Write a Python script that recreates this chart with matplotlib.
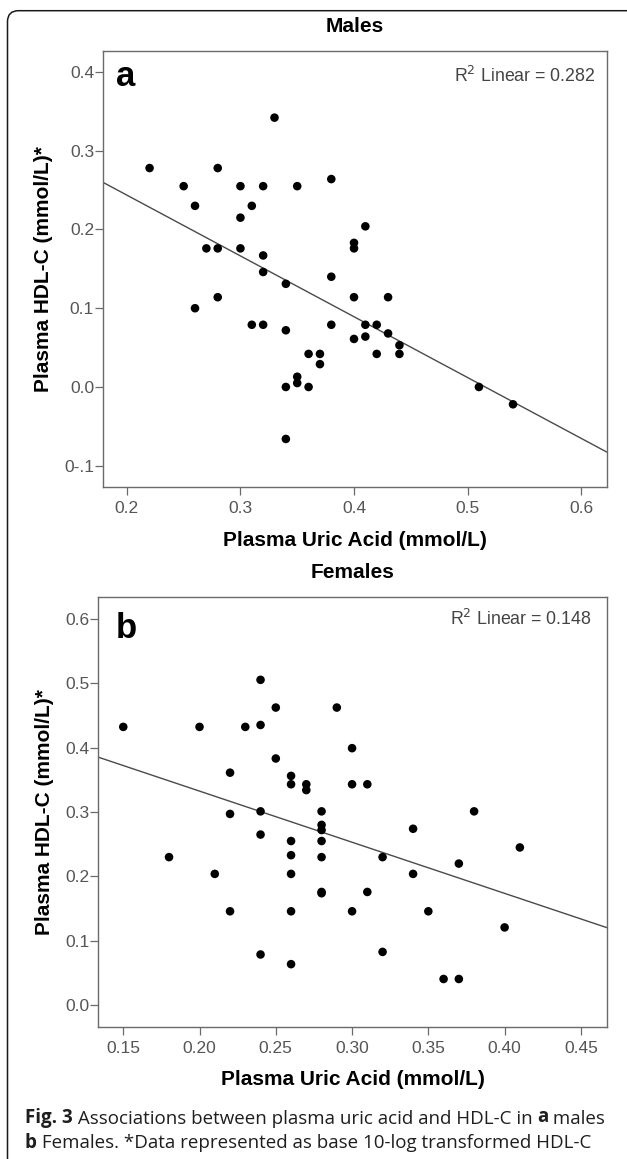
import numpy as np
import matplotlib
matplotlib.use("Agg")
import matplotlib.pyplot as plt
from matplotlib.patches import FancyBboxPatch
from matplotlib.transforms import IdentityTransform
from matplotlib.text import Annotation
from matplotlib import font_manager

# ---------------- data ----------------
male_uric = [0.33, 0.22, 0.28, 0.25, 0.30, 0.32, 0.35, 0.38, 0.26, 0.31,
             0.30, 0.41, 0.40, 0.40, 0.27, 0.28, 0.30, 0.32, 0.32, 0.34,
             0.38, 0.28, 0.40, 0.43, 0.26, 0.31, 0.32, 0.34, 0.38, 0.41,
             0.42, 0.43, 0.40, 0.41, 0.44, 0.44, 0.42, 0.36, 0.37, 0.37,
             0.35, 0.35, 0.34, 0.36, 0.34, 0.51, 0.54]
male_hdl = [0.342, 0.278, 0.278, 0.255, 0.255, 0.255, 0.255, 0.264, 0.230, 0.230,
            0.215, 0.204, 0.183, 0.176, 0.176, 0.176, 0.176, 0.167, 0.146, 0.131,
            0.140, 0.114, 0.114, 0.114, 0.100, 0.079, 0.079, 0.072, 0.079, 0.079,
            0.079, 0.068, 0.061, 0.064, 0.053, 0.042, 0.042, 0.042, 0.042, 0.029,
            0.013, 0.005, 0.000, 0.000, -0.066, 0.000, -0.022]

female_uric = [0.15, 0.20, 0.23, 0.24, 0.24, 0.25, 0.29, 0.30, 0.25, 0.22,
               0.26, 0.26, 0.27, 0.27, 0.30, 0.31, 0.22, 0.24, 0.28, 0.38,
               0.24, 0.28, 0.28, 0.28, 0.26, 0.34, 0.41, 0.18, 0.26, 0.28,
               0.32, 0.37, 0.21, 0.26, 0.34, 0.28, 0.28, 0.31, 0.22, 0.26,
               0.30, 0.35, 0.40, 0.24, 0.32, 0.26, 0.36, 0.37]
female_hdl = [0.432, 0.432, 0.432, 0.505, 0.435, 0.462, 0.462, 0.399, 0.383, 0.361,
              0.356, 0.343, 0.343, 0.334, 0.343, 0.343, 0.297, 0.301, 0.301, 0.301,
              0.265, 0.280, 0.272, 0.255, 0.255, 0.274, 0.245, 0.230, 0.233, 0.230,
              0.230, 0.220, 0.204, 0.204, 0.204, 0.176, 0.174, 0.176, 0.146, 0.146,
              0.146, 0.146, 0.121, 0.079, 0.083, 0.064, 0.041, 0.041]

# fitted lines (intercept, slope)
male_fit = (0.398, -0.772)
female_fit = (0.491, -0.793)

male_r2 = "0.282"
female_r2 = "0.148"

male_xticks = [0.2, 0.3, 0.4, 0.5, 0.6]
male_xticklabels = ["0.2", "0.3", "0.4", "0.5", "0.6"]
male_yticks = [-0.1, 0.0, 0.1, 0.2, 0.3, 0.4]
male_yticklabels = ["0-.1", "0.0", "0.1", "0.2", "0.3", "0.4"]

female_xticks = [0.15, 0.20, 0.25, 0.30, 0.35, 0.40, 0.45]
female_xticklabels = ["0.15", "0.20", "0.25", "0.30", "0.35", "0.40", "0.45"]
female_yticks = [0.0, 0.1, 0.2, 0.3, 0.4, 0.5, 0.6]
female_yticklabels = ["0.0", "0.1", "0.2", "0.3", "0.4", "0.5", "0.6"]

caption_line1 = [("Fig. 3", True),
                 (" Associations between plasma uric acid and HDL-C in ", False),
                 ("a", True), (" males", False)]
caption_line2 = [("b", True),
                 (" Females. *Data represented as base 10-log transformed HDL-C", False)]

# ---------------- figure ----------------
W, H = 627, 1159
fig = plt.figure(figsize=(W / 100, H / 100), dpi=100)
fig.patch.set_facecolor("white")

SANS = ["Liberation Sans", "DejaVu Sans"]
CAP = ["Open Sans", "DejaVu Sans"]
plt.rcParams["font.family"] = SANS

# condensed font for tick labels if available
try:
    font_manager.findfont(font_manager.FontProperties(family="Liberation Sans Narrow"),
                          fallback_to_default=False)
    TICKFAM, TICKSIZE = "Liberation Sans Narrow", 13.5
except Exception:
    TICKFAM, TICKSIZE = "Liberation Sans", 12.5

spine_c = "#6a6a6a"
tick_c = "#555555"

# outer rounded frame (pixel coords)
frame = FancyBboxPatch((7.5, -20), 640, H - 10.7 + 20,
                       boxstyle="round,pad=0,rounding_size=11",
                       transform=IdentityTransform(), fill=False,
                       edgecolor="#1a1a1a", linewidth=1.1)
fig.patches.append(frame)


def panel(rect, x, y, fit, r2, xlim, ylim, xt, xtl, yt, ytl, title, letter,
          letter_pos, r2_pos, title_y, xlab_y, ylab_x):
    ax = fig.add_axes(rect)
    ax.scatter(x, y, s=38, color="black", edgecolors="none", zorder=3)
    xs = np.array(xlim)
    ax.plot(xs, fit[0] + fit[1] * xs, color="#4a4a4a", lw=1.0, zorder=2)
    ax.set_xlim(xlim)
    ax.set_ylim(ylim)
    ax.set_xticks(xt)
    ax.set_xticklabels(xtl, family=TICKFAM)
    ax.set_yticks(yt)
    ax.set_yticklabels(ytl, family=TICKFAM)
    for s in ax.spines.values():
        s.set_color(spine_c)
        s.set_linewidth(1.0)
    ax.tick_params(axis="both", direction="out", length=6.0, width=0.9,
                   color=spine_c, labelcolor=tick_c, labelsize=TICKSIZE)
    ax.tick_params(axis="y", pad=0.3)
    ax.tick_params(axis="x", pad=4.0)
    ax.set_title(title, fontsize=15, fontweight="bold", y=title_y, va="center")
    ax.set_xlabel("Plasma Uric Acid (mmol/L)", fontsize=15, fontweight="bold",
                  va="center")
    ax.xaxis.set_label_coords(0.5, xlab_y)
    ax.set_ylabel("Plasma HDL-C (mmol/L)*", fontsize=15, fontweight="bold",
                  va="center")
    ax.yaxis.set_label_coords(ylab_x, 0.5)
    ax.text(letter_pos[0], letter_pos[1], letter, transform=ax.transAxes,
            fontsize=25, fontweight="bold", ha="left", va="baseline")
    ax.text(r2_pos[0], r2_pos[1], r"R$^{2}$ Linear = " + r2,
            transform=ax.transAxes, fontsize=12.8, color="#444444",
            ha="right", va="baseline")
    return ax


panel([102.8 / W, 1 - 487 / H, (606.8 - 102.8) / W, (487 - 50.7) / H],
      male_uric, male_hdl, male_fit, male_r2,
      (0.1788, 0.6226), (-0.127, 0.427),
      male_xticks, male_xticklabels, male_yticks, male_yticklabels,
      "Males", "a", (0.026, 0.919), (0.978, 0.929), 1.036, -0.1215, -0.117)

panel([98.4 / W, 1 - 1026.7 / H, (606.8 - 98.4) / W, (1026.7 - 597.3) / H],
      female_uric, female_hdl, female_fit, female_r2,
      (0.1337, 0.467), (-0.033, 0.633),
      female_xticks, female_xticklabels, female_yticks, female_yticklabels,
      "Females", "b", (0.035, 0.905), (0.971, 0.9355), 1.038, -0.124, -0.107)

# ---------------- caption ----------------
cap_size = 13.5
cap_color = "#1e1e1e"


def chain_line(parts, x_px, base_px):
    s0, b0 = parts[0]
    prev = fig.text(x_px / W, 1 - base_px / H, s0, fontsize=cap_size, family=CAP,
                    fontweight="bold" if b0 else "normal", ha="left",
                    va="baseline", color=cap_color)
    for s, b in parts[1:]:
        prev = fig.add_artist(Annotation(
            s, xy=(1, 0), xycoords=prev, xytext=(0, 0),
            textcoords="offset points", fontsize=cap_size, family=CAP,
            fontweight="bold" if b else "normal", ha="left", va="bottom",
            color=cap_color, annotation_clip=False))


chain_line(caption_line1, 25, 1122.5)
chain_line(caption_line2, 25, 1147.5)

fig.savefig("out.png", dpi=100, facecolor="white")
